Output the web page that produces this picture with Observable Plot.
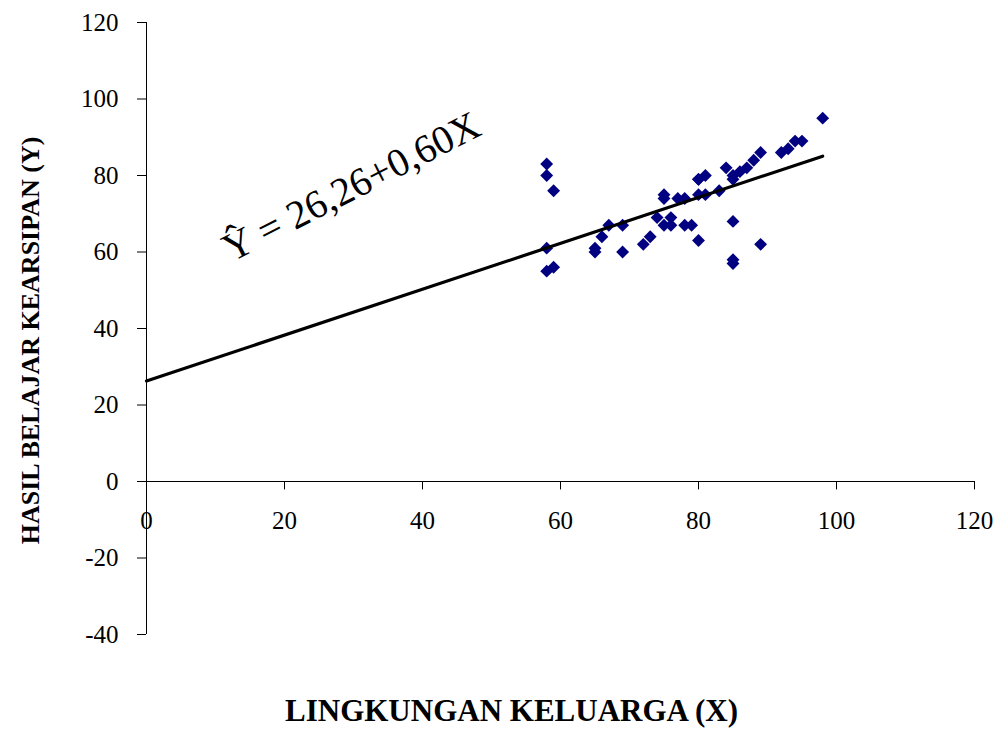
<!DOCTYPE html>
<html>
<head>
<meta charset="utf-8">
<script src="https://cdn.jsdelivr.net/npm/d3@7"></script>
<script src="https://cdn.jsdelivr.net/npm/@observablehq/plot@0.6"></script>
<style>
  html, body { margin: 0; padding: 0; background: #fff; }
  #chart svg { display: block; }
</style>
</head>
<body>
<div id="chart"></div>
<script>
// Data: Lingkungan Keluarga (X) vs Hasil Belajar Kearsipan (Y)
const xValues = [58, 58, 58, 58, 59, 59, 65, 65, 66, 67, 69, 69, 72, 73, 74, 75, 75, 76, 75, 76, 78, 79, 78, 80, 80, 80, 81, 81, 83, 84, 85, 85, 85, 85, 85, 86, 87, 88, 89, 89, 92, 93, 94, 95, 98, 80, 77];
const yValues = [83, 80, 61, 55, 76, 56, 61, 60, 64, 67, 67, 60, 62, 64, 69, 75, 74, 69, 67, 67, 67, 67, 74, 79, 75, 63, 80, 75, 76, 82, 80, 79, 68, 58, 57, 81, 82, 84, 86, 62, 86, 87, 89, 89, 95, 79, 74];
const points = xValues.map((x, i) => ({x, y: yValues[i]}));

// Regression: Y = 26.26 + 0.60 X
const intercept = 26.26;
const slope = 0.60;
const lineX = [0, 98];
const regression = lineX.map(x => ({x, y: intercept + slope * x}));
const equationLabel = "Ŷ = 26,26+0,60X";

const xTicks = [0, 20, 40, 60, 80, 100, 120];
const yTicks = [-40, -20, 0, 20, 40, 60, 80, 100, 120];
const xTitle = "LINGKUNGAN KELUARGA (X)";
const yTitle = "HASIL BELAJAR KEARSIPAN (Y)";

const serif = "'Liberation Serif', 'Times New Roman', serif";

const chart = Plot.plot({
  width: 1000,
  height: 736,
  marginLeft: 146,
  marginRight: 26,
  marginTop: 22,
  marginBottom: 102,
  style: {fontFamily: serif, color: "#000", background: "#fff"},
  x: {domain: [0, 120], axis: null},
  y: {domain: [-40, 120], axis: null},
  marks: [
    // y axis line and ticks
    Plot.ruleX([0], {y1: -40, y2: 120, stroke: "#000", strokeWidth: 1}),
    Plot.axisY(yTicks, {anchor: "left", tickSize: 9, tickPadding: 19, fontSize: 25, fontFamily: serif, stroke: "#000", fill: "#000", label: null, tickFormat: d => String(d)}),
    // x axis line at y = 0, ticks below
    Plot.ruleY([0], {x1: 0, x2: 120, stroke: "#000", strokeWidth: 1}),
    Plot.ruleX(xTicks, {x: d => d, y1: 0, y2: -2.2, stroke: "#000", strokeWidth: 1}),
    Plot.text(xTicks, {x: d => d, y: 0, text: d => String(d), dy: 39, fontSize: 25, fontFamily: serif, fill: "#000"}),
    // data points
    Plot.dot(points, {x: "x", y: "y", symbol: "diamond2", r: 5.8, fill: "#000080", stroke: "none"}),
    // regression line
    Plot.line(regression, {x: "x", y: "y", stroke: "#000", strokeWidth: 3.2}),
    // equation
    Plot.text([equationLabel], {x: 29.7, y: 77, text: d => d, rotate: -27, fontSize: 40, fontFamily: serif, fill: "#000", textAnchor: "middle"}),
    // axis titles
    Plot.text([xTitle], {frameAnchor: "bottom", text: d => d, textAnchor: "middle", dx: -49, dy: 86, fontSize: 31, fontWeight: "bold", fontFamily: serif, fill: "#000"}),
    Plot.text([yTitle], {frameAnchor: "left", text: d => d, textAnchor: "middle", rotate: -90, dx: -116, dy: 12, fontSize: 26, fontWeight: "bold", fontFamily: serif, fill: "#000"})
  ]
});
document.getElementById("chart").appendChild(chart);
</script>
</body>
</html>
